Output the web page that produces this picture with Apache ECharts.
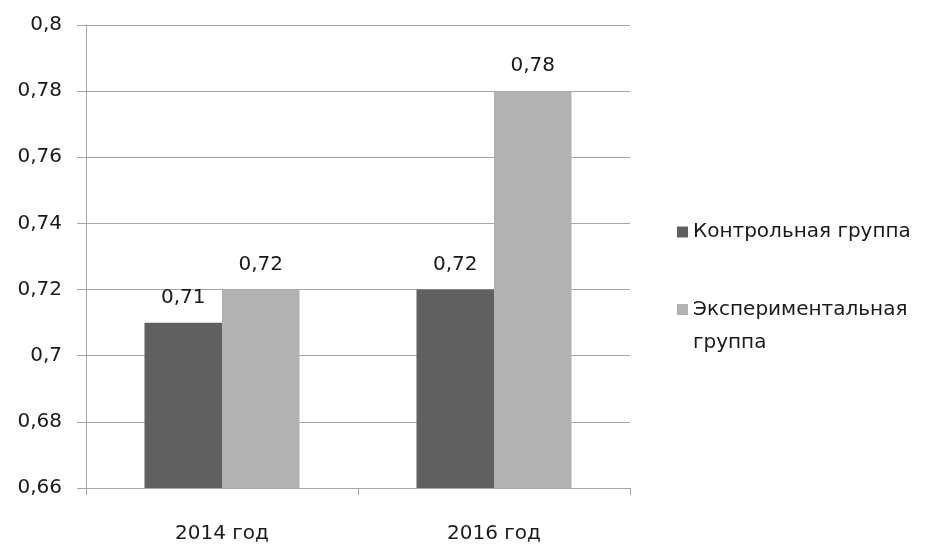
<!DOCTYPE html>
<html>
<head>
<meta charset="utf-8">
<script src="https://cdn.jsdelivr.net/npm/echarts@6/dist/echarts.min.js"></script>
<style>
  html, body { margin: 0; padding: 0; background: #fff; }
  #chart { width: 925px; height: 544px; }
</style>
</head>
<body>
<div id="chart"></div>
<script>
// Years on the category axis
const categories = ['2014 год', '2016 год'];
// Series names
const controlName = 'Контрольная группа';
const experimentName = 'Экспериментальная группа';
// Mean values per year
const controlValues = [0.71, 0.72];
const experimentValues = [0.72, 0.78];
// Value axis range
const yMin = 0.66;
const yMax = 0.8;
const yStep = 0.02;

const FONT = '"DejaVu Sans", "Open Sans", sans-serif';
const FS = 20;
const TEXT = '#1a1a1a';
const AXIS = '#a6a6a6';
const fmt = v => String(Math.round(v * 100) / 100).replace('.', ',');

const chart = echarts.init(document.getElementById('chart'), null, { renderer: 'canvas' });

const legendBase = {
  orient: 'vertical',
  left: 677,
  padding: 0,
  itemWidth: 11,
  itemHeight: 11,
  icon: 'rect',
  selectedMode: false
};

chart.setOption({
  animation: false,
  backgroundColor: '#ffffff',
  textStyle: { fontFamily: FONT },
  grid: { left: 86, top: 25, width: 544, height: 464, containLabel: false },
  legend: [
    Object.assign({}, legendBase, {
      top: 220,
      data: [controlName],
      textStyle: { fontFamily: FONT, fontSize: FS, color: TEXT, lineHeight: 24 }
    }),
    Object.assign({}, legendBase, {
      top: 260,
      data: [experimentName],
      // the name wraps onto two lines; a blank leading line keeps the
      // first line level with the swatch
      formatter: () => '\nЭкспериментальная\nгруппа',
      textStyle: { fontFamily: FONT, fontSize: FS, color: TEXT, lineHeight: 33 }
    })
  ],
  xAxis: {
    type: 'category',
    data: categories,
    axisLine: { show: true, lineStyle: { color: AXIS, width: 1 } },
    axisTick: { show: true, length: 7, alignWithLabel: false, lineStyle: { color: AXIS } },
    axisLabel: { margin: 36, fontFamily: FONT, fontSize: FS, color: TEXT },
    splitLine: { show: false }
  },
  yAxis: {
    type: 'value',
    min: yMin,
    max: yMax,
    interval: yStep,
    axisLine: { show: true, lineStyle: { color: AXIS, width: 1 } },
    axisTick: { show: true, length: 9, lineStyle: { color: AXIS } },
    axisLabel: { margin: 24, fontFamily: FONT, fontSize: FS, color: TEXT, formatter: fmt },
    splitLine: { show: true, lineStyle: { color: AXIS, width: 1 } }
  },
  series: [
    {
      name: controlName,
      type: 'bar',
      data: controlValues,
      barGap: '0%',
      barCategoryGap: '43%',
      itemStyle: { color: '#606060' },
      label: {
        show: true, position: 'top', distance: 15,
        fontFamily: FONT, fontSize: FS, color: TEXT,
        formatter: p => fmt(p.value)
      }
    },
    {
      name: experimentName,
      type: 'bar',
      data: experimentValues,
      barGap: '0%',
      barCategoryGap: '43%',
      itemStyle: { color: '#b2b2b2' },
      label: {
        show: true, position: 'top', distance: 15,
        fontFamily: FONT, fontSize: FS, color: TEXT,
        formatter: p => fmt(p.value)
      }
    }
  ]
});
</script>
</body>
</html>
